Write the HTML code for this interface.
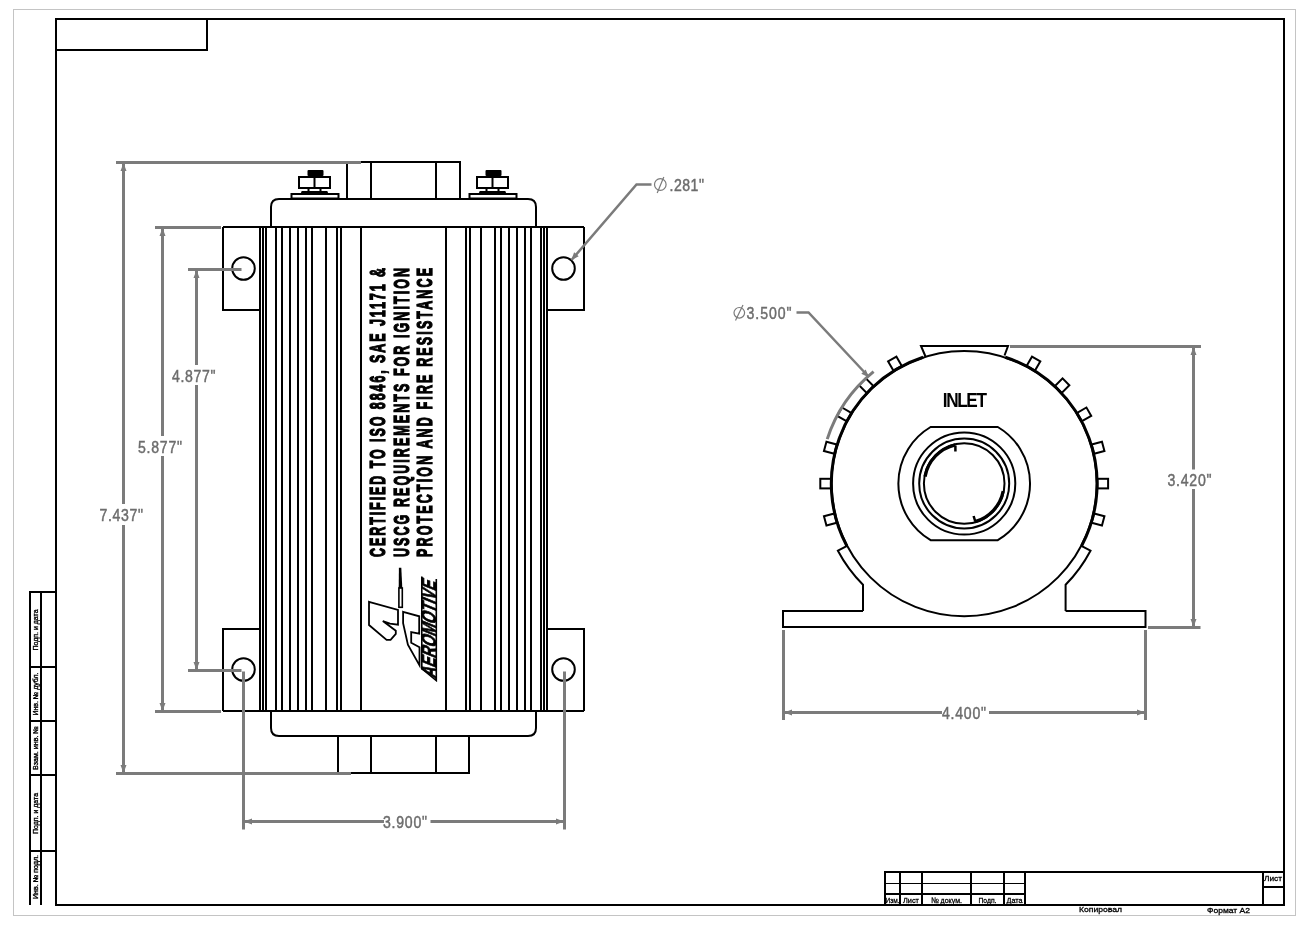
<!DOCTYPE html>
<html><head><meta charset="utf-8"><title>Drawing</title>
<style>
html,body{margin:0;padding:0;background:#fff;overflow:hidden;}
svg{display:block;will-change:transform;}
text{font-family:"Liberation Sans",sans-serif;}
</style></head><body>
<svg width="1309" height="925" viewBox="0 0 1309 925">
<rect width="1309" height="925" fill="#fff"/>
<rect x="13.5" y="9.5" width="1282" height="906" fill="none" stroke="#c4c4c4" stroke-width="1"/>
<rect x="56" y="19" width="1228" height="886" fill="none" stroke="#000" stroke-width="2"/>
<path d="M56 50H207V19" fill="none" stroke="#000" stroke-width="2"/>
<g fill="none" stroke="#000" stroke-width="2">
<path d="M56 592H30V905M41 592V905"/>
<path d="M30 667H56"/>
<path d="M30 721H56"/>
<path d="M30 775H56"/>
<path d="M30 851H56"/>
</g>
<g font-family="Liberation Sans" fill="#000" stroke="#000" stroke-width="0.35">
<text transform="translate(37.5,630) rotate(-90)" text-anchor="middle" font-size="7" textLength="41" lengthAdjust="spacingAndGlyphs">Подп. и дата</text>
<text transform="translate(37.5,694) rotate(-90)" text-anchor="middle" font-size="7" textLength="43" lengthAdjust="spacingAndGlyphs">Инв. № дубл.</text>
<text transform="translate(37.5,748) rotate(-90)" text-anchor="middle" font-size="7" textLength="44" lengthAdjust="spacingAndGlyphs">Взам. инв. №</text>
<text transform="translate(37.5,813.5) rotate(-90)" text-anchor="middle" font-size="7" textLength="41" lengthAdjust="spacingAndGlyphs">Подп. и дата</text>
<text transform="translate(37.5,877) rotate(-90)" text-anchor="middle" font-size="7" textLength="44" lengthAdjust="spacingAndGlyphs">Инв. № подл.</text>
</g>
<g fill="none" stroke="#000" stroke-width="2">
<path d="M885 905V872H1284"/>
<path d="M900 872V905"/>
<path d="M922 872V905"/>
<path d="M971 872V905"/>
<path d="M1004 872V905"/>
<path d="M1025 872V905"/>
<path d="M1263 872V905"/>
<path d="M885 894H1025M1263 887H1284"/>
</g>
<path d="M885 883.5H1025" stroke="#000" stroke-width="1"/>
<g font-family="Liberation Sans" font-size="8" fill="#000" stroke="#000" stroke-width="0.3" text-anchor="middle">
<text x="892.5" y="902.5" textLength="14" lengthAdjust="spacingAndGlyphs">Изм.</text>
<text x="911" y="902.5" textLength="16" lengthAdjust="spacingAndGlyphs">Лист</text>
<text x="946.5" y="902.5" textLength="31" lengthAdjust="spacingAndGlyphs">№ докум.</text>
<text x="987.5" y="902.5" textLength="18" lengthAdjust="spacingAndGlyphs">Подп.</text>
<text x="1014.5" y="902.5" textLength="16" lengthAdjust="spacingAndGlyphs">Дата</text>
<text x="1273" y="881" textLength="18" lengthAdjust="spacingAndGlyphs">Лист</text>
<text x="1100.5" y="912" textLength="43" lengthAdjust="spacingAndGlyphs">Копировал</text>
<text x="1228.5" y="913" textLength="43" lengthAdjust="spacingAndGlyphs">Формат А2</text>
</g>
<g fill="none" stroke="#000" stroke-width="2">
<path d="M347 199V162H460V199M371 162V199M436 162V199"/>
<path d="M271 227V207Q271 199 279 199H528Q536 199 536 207V227"/>
<path d="M271 711V728Q271 736 279 736H528Q536 736 536 728V711"/>
<path d="M338 736V773H469V736M371 736V773M436 736V773"/>
<path d="M223 227H584M223 711H584"/>
<path d="M260 310H223V227M547 310H584V227M260 629H223V711M547 629H584V711"/>
<path d="M260 227V711"/>
<path d="M263 227V711"/>
<path d="M266 227V711"/>
<path d="M276 227V711"/>
<path d="M282 227V711"/>
<path d="M290 227V711"/>
<path d="M298 227V711"/>
<path d="M306 227V711"/>
<path d="M312 227V711"/>
<path d="M326 227V711"/>
<path d="M337 227V711"/>
<path d="M341 227V711"/>
<path d="M361 227V711"/>
<path d="M446 227V711"/>
<path d="M466 227V711"/>
<path d="M470 227V711"/>
<path d="M481 227V711"/>
<path d="M495 227V711"/>
<path d="M501 227V711"/>
<path d="M509 227V711"/>
<path d="M517 227V711"/>
<path d="M525 227V711"/>
<path d="M531 227V711"/>
<path d="M541 227V711"/>
<path d="M544 227V711"/>
<path d="M547 227V711"/>
<circle cx="243.5" cy="268.5" r="11.3"/>
<circle cx="563.5" cy="268.5" r="11.3"/>
<circle cx="243.5" cy="669.5" r="11.3"/>
<circle cx="563.5" cy="669.5" r="11.3"/>
</g>
<g transform="translate(314.5,0)">
<rect x="-7" y="170" width="16" height="6" rx="1" fill="#000"/>
<rect x="-15.5" y="177" width="31" height="11" fill="#fff" stroke="#000" stroke-width="2"/>
<path d="M0 177V188" stroke="#000" stroke-width="2"/>
<path d="M-6 188V192M6 188V192" stroke="#000" stroke-width="2"/>
<path d="M-14 194L-12.8 191H12.8L14 194Z" fill="#000"/>
<rect x="-23" y="194" width="47" height="4.5" fill="none" stroke="#000" stroke-width="2"/>
</g>
<g transform="translate(492.5,0)">
<rect x="-7" y="170" width="16" height="6" rx="1" fill="#000"/>
<rect x="-15.5" y="177" width="31" height="11" fill="#fff" stroke="#000" stroke-width="2"/>
<path d="M0 177V188" stroke="#000" stroke-width="2"/>
<path d="M-6 188V192M6 188V192" stroke="#000" stroke-width="2"/>
<path d="M-14 194L-12.8 191H12.8L14 194Z" fill="#000"/>
<rect x="-23" y="194" width="47" height="4.5" fill="none" stroke="#000" stroke-width="2"/>
</g>
<g font-family="Liberation Sans" font-weight="bold" fill="#000" stroke="#000" stroke-width="1.3" font-size="22.3">
<text transform="translate(385.3,557) rotate(-90) scale(0.56,1)" textLength="516.1" lengthAdjust="spacing">CERTIFIED TO ISO 8846, SAE J1171 &</text>
<text transform="translate(409.3,557) rotate(-90) scale(0.56,1)" textLength="516.1" lengthAdjust="spacing">USCG REQUIREMENTS FOR IGNITION</text>
<text transform="translate(432.3,557) rotate(-90) scale(0.56,1)" textLength="516.1" lengthAdjust="spacing">PROTECTION AND FIRE RESISTANCE</text>
</g>
<g fill="none" stroke="#000" stroke-width="1.8" stroke-linejoin="miter">
<path d="M398.9 567.8H401.3L402.3 588H398.7Z" fill="#000" stroke="none"/>
<rect x="398.9" y="588" width="3.4" height="19.3" stroke-width="1.6"/>
<path d="M369 601.8L398 610V624.7L390 623.6L382.8 621L395.8 630.7V633.9L390.6 639.9H386.6L369 625Z"/>
<path d="M403.1 611.8L419.2 616.3V633.6L411.2 632.1V642.7L419.5 647.3V665.4L407.9 644.7L403.1 623.1Z"/>
</g>
<text transform="translate(436.3,679) rotate(-90) skewX(-22)" font-family="Liberation Sans" font-weight="bold" font-size="21" textLength="97" lengthAdjust="spacingAndGlyphs" fill="#000" stroke="#000" stroke-width="0.9">AEROMOTIVE</text>
<path d="M421.8 576.5V668.5L436.3 680.5V579" fill="none" stroke="#000" stroke-width="1.6"/>
<g fill="none" stroke="#000" stroke-width="2">
<circle cx="964.2" cy="483.6" r="132.6" stroke-width="2"/>
<path d="M863 611H783V627H1145.5V611H1065.6"/>
<path d="M863 611V584.7A143 143 0 0 1 837.9 550.7L847.1 545.9"/>
<path d="M1065.6 611V584.7A143 143 0 0 0 1090.5 550.7L1081.3 545.9"/>
<rect x="133.2" y="-4.8" width="10.7" height="9.6" fill="#fff" transform="translate(964.2,483.6) rotate(15)"/>
<rect x="133.2" y="-4.8" width="10.7" height="9.6" fill="#fff" transform="translate(964.2,483.6) rotate(0)"/>
<rect x="133.2" y="-4.8" width="10.7" height="9.6" fill="#fff" transform="translate(964.2,483.6) rotate(-15)"/>
<rect x="133.2" y="-4.8" width="10.7" height="9.6" fill="#fff" transform="translate(964.2,483.6) rotate(-30)"/>
<rect x="133.2" y="-4.8" width="10.7" height="9.6" fill="#fff" transform="translate(964.2,483.6) rotate(-45)"/>
<rect x="133.2" y="-4.8" width="10.7" height="9.6" fill="#fff" transform="translate(964.2,483.6) rotate(-60)"/>
<rect x="133.2" y="-4.8" width="10.7" height="9.6" fill="#fff" transform="translate(964.2,483.6) rotate(-120)"/>
<rect x="133.2" y="-4.8" width="10.7" height="9.6" fill="#fff" transform="translate(964.2,483.6) rotate(-135)"/>
<rect x="133.2" y="-4.8" width="10.7" height="9.6" fill="#fff" transform="translate(964.2,483.6) rotate(-150)"/>
<rect x="133.2" y="-4.8" width="10.7" height="9.6" fill="#fff" transform="translate(964.2,483.6) rotate(-165)"/>
<rect x="133.2" y="-4.8" width="10.7" height="9.6" fill="#fff" transform="translate(964.2,483.6) rotate(-180)"/>
<rect x="133.2" y="-4.8" width="10.7" height="9.6" fill="#fff" transform="translate(964.2,483.6) rotate(-195)"/>
<path d="M925.5 356.5L921 346H1008L1004.5 355.5"/>
<path d="M930.6 427.0H997.8A65.8 65.8 0 0 1 997.8 540.2H930.6A65.8 65.8 0 0 1 930.6 427.0Z"/>
<circle cx="964.2" cy="483.5" r="51.1"/>
<circle cx="964.2" cy="483.5" r="45"/>
<circle cx="964.2" cy="483.5" r="40.3"/>
</g>
<path d="M955.27 444.82A39.7 39.7 0 0 0 925.10 476.61" fill="none" stroke="#000" stroke-width="3.2"/>
<path d="M955.4 445.5V451.5M975.3 521.5L973.6 516" stroke="#000" stroke-width="2.5"/>
<path d="M1089.09 438.15A132.9 132.9 0 0 0 1005.27 357.20" fill="none" stroke="#000" stroke-width="3"/>
<path d="M923.13 357.20A132.9 132.9 0 0 0 839.31 438.15" fill="none" stroke="#000" stroke-width="3"/>
<path d="M839.31 438.15A132.9 132.9 0 0 0 846.86 545.99" fill="none" stroke="#000" stroke-width="3"/>
<path d="M1081.54 545.99A132.9 132.9 0 0 0 1089.09 438.15" fill="none" stroke="#000" stroke-width="3"/>
<path d="M975.14 521.66A39.7 39.7 0 0 0 1003.17 491.08" fill="none" stroke="#000" stroke-width="3.2"/>
<text transform="translate(942.8,406.7) scale(0.86,1)" font-family="Liberation Sans" font-weight="bold" font-size="20" textLength="51.3" lengthAdjust="spacing" fill="#000">INLET</text>
<g fill="none" stroke="#7b7b7b" stroke-width="3">
<path d="M116 162.5H361M116 773.5H351"/>
<path d="M123.5 162.5V504M123.5 525V773.5"/>
<path d="M155 227.5H221M155 711.5H221"/>
<path d="M162.5 227.5V436M162.5 456V711.5"/>
<path d="M188 269.5H241.5M188 670.5H241.5"/>
<path d="M196.5 269.5V365M196.5 385V670.5"/>
<path d="M243.5 671.5V829.5M564.5 671.5V829.5"/>
<path d="M243.5 821.5H384M430.5 821.5H564.5"/>
<path d="M571.5 260L636.5 184.5H651.5" stroke-width="2.5"/>
<path d="M796.5 312.5H808.5L868 376" stroke-width="2.5"/>
<path d="M1010 346.5H1201M1148 627.5H1200.5"/>
<path d="M1193.5 346.5V469.5M1193.5 489V627.5"/>
<path d="M783.5 630V720M1145.5 630V720"/>
<path d="M783.5 712.5H942M989 712.5H1145.5"/>
</g>
<path d="M873.58 371.69A144 144 0 0 0 827.25 439.10" fill="none" stroke="#7b7b7b" stroke-width="3"/>
<path d="M123.5 163.0L126.5 171.0L120.5 171.0Z" fill="#7b7b7b"/>
<path d="M123.5 773.0L120.5 765.0L126.5 765.0Z" fill="#7b7b7b"/>
<path d="M162.5 228.0L165.5 236.0L159.5 236.0Z" fill="#7b7b7b"/>
<path d="M162.5 711.0L159.5 703.0L165.5 703.0Z" fill="#7b7b7b"/>
<path d="M196.5 270.0L199.5 278.0L193.5 278.0Z" fill="#7b7b7b"/>
<path d="M196.5 670.0L193.5 662.0L199.5 662.0Z" fill="#7b7b7b"/>
<path d="M244.0 821.5L252.0 818.5L252.0 824.5Z" fill="#7b7b7b"/>
<path d="M564.0 821.5L556.0 824.5L556.0 818.5Z" fill="#7b7b7b"/>
<path d="M1193.5 347.0L1196.5 355.0L1190.5 355.0Z" fill="#7b7b7b"/>
<path d="M1193.5 627.0L1190.5 619.0L1196.5 619.0Z" fill="#7b7b7b"/>
<path d="M784.0 712.5L792.0 709.5L792.0 715.5Z" fill="#7b7b7b"/>
<path d="M1145.0 712.5L1137.0 715.5L1137.0 709.5Z" fill="#7b7b7b"/>
<path d="M571.2 260.3L574.1 252.3L578.7 256.2Z" fill="#7b7b7b"/>
<path d="M869.0 377.5L861.3 373.7L865.7 369.6Z" fill="#7b7b7b"/>
<text transform="translate(99.5,520.5) scale(0.88,1)" font-family="Liberation Sans" font-size="16" fill="#6c6c6c" stroke="#6c6c6c" stroke-width="0.45" textLength="49.43" lengthAdjust="spacing">7.437&quot;</text>
<text transform="translate(138,452.8) scale(0.88,1)" font-family="Liberation Sans" font-size="16" fill="#6c6c6c" stroke="#6c6c6c" stroke-width="0.45" textLength="50.00" lengthAdjust="spacing">5.877&quot;</text>
<text transform="translate(172,381.8) scale(0.88,1)" font-family="Liberation Sans" font-size="16" fill="#6c6c6c" stroke="#6c6c6c" stroke-width="0.45" textLength="49.43" lengthAdjust="spacing">4.877&quot;</text>
<text transform="translate(383,828) scale(0.88,1)" font-family="Liberation Sans" font-size="16" fill="#6c6c6c" stroke="#6c6c6c" stroke-width="0.45" textLength="50.00" lengthAdjust="spacing">3.900&quot;</text>
<text transform="translate(669.5,191) scale(0.88,1)" font-family="Liberation Sans" font-size="16" fill="#6c6c6c" stroke="#6c6c6c" stroke-width="0.45" textLength="39.20" lengthAdjust="spacing">.281&quot;</text>
<text transform="translate(746.5,318.5) scale(0.88,1)" font-family="Liberation Sans" font-size="16" fill="#6c6c6c" stroke="#6c6c6c" stroke-width="0.45" textLength="51.14" lengthAdjust="spacing">3.500&quot;</text>
<text transform="translate(1167.5,485.5) scale(0.88,1)" font-family="Liberation Sans" font-size="16" fill="#6c6c6c" stroke="#6c6c6c" stroke-width="0.45" textLength="50.00" lengthAdjust="spacing">3.420&quot;</text>
<text transform="translate(942,718.8) scale(0.88,1)" font-family="Liberation Sans" font-size="16" fill="#6c6c6c" stroke="#6c6c6c" stroke-width="0.45" textLength="50.00" lengthAdjust="spacing">4.400&quot;</text>
<g fill="none" stroke="#7b7b7b" stroke-width="1.2">
<circle cx="660.3" cy="184.5" r="5.8"/><path d="M663.8 177L657.2 193"/>
<circle cx="739.3" cy="312.8" r="5.3"/><path d="M743 305L735.5 320.5"/>
</g>
</svg>
</body></html>
